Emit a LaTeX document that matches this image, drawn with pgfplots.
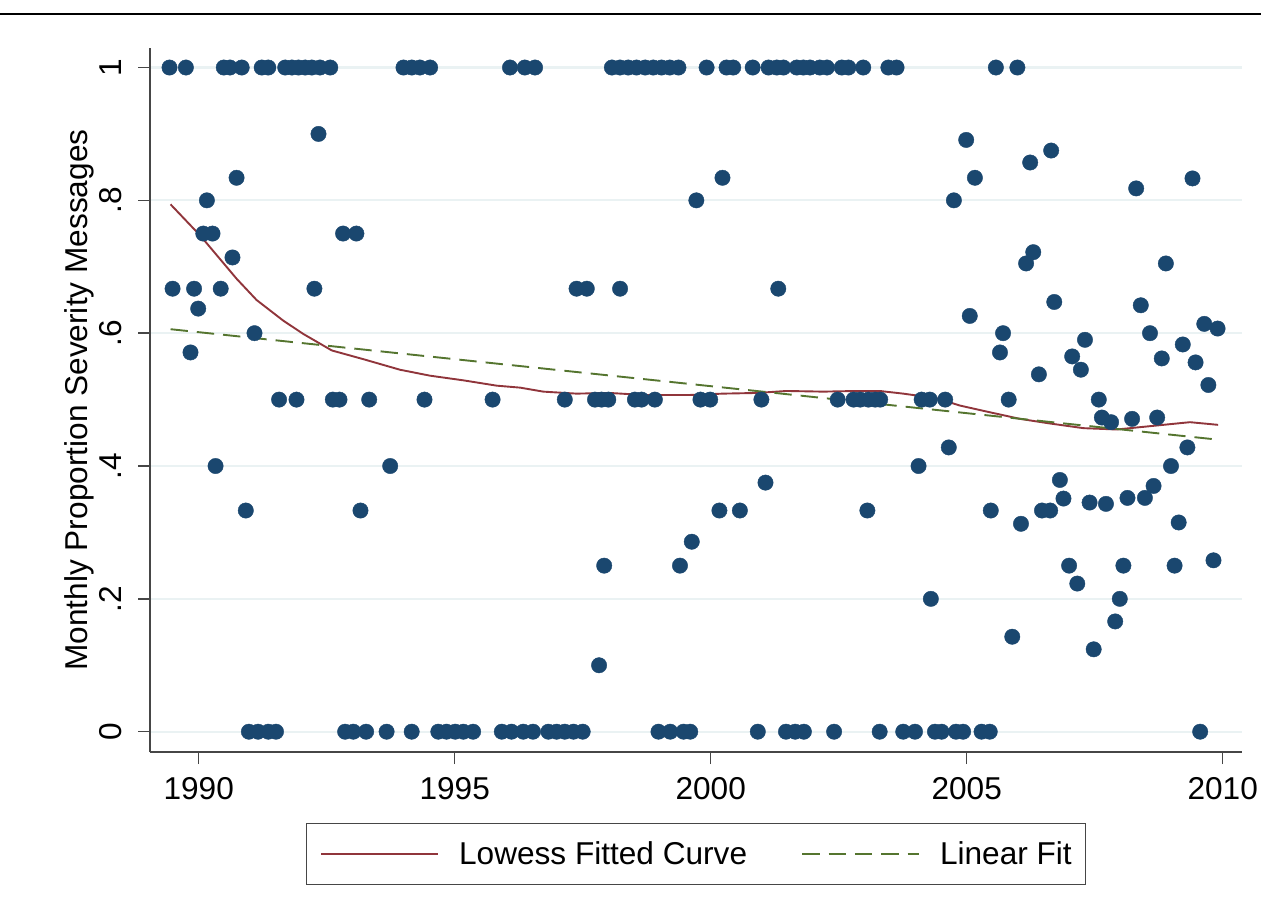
\documentclass[border=0pt]{standalone}
\usepackage{fontspec}
\setmainfont{Liberation Sans}
\usepackage{pgfplots}
\usepackage{pgfplotstable}
\pgfplotsset{compat=1.18}
\definecolor{stnavy}{RGB}{26,71,111}
\definecolor{stmaroon}{RGB}{144,53,59}
\definecolor{stgreen}{RGB}{85,117,47}
\definecolor{stgrid}{RGB}{234,242,243}
\definecolor{staxis}{RGB}{70,70,70}

\pgfplotstableread{
x y
1989.43 1
1989.75 1
1990.49 1
1990.61 1
1990.84 1
1991.23 1
1991.36 1
1991.69 1
1991.82 1
1991.95 1
1992.08 1
1992.21 1
1992.37 1
1992.57 1
1994.00 1
1994.16 1
1994.32 1
1994.52 1
1996.08 1
1996.37 1
1996.57 1
1998.07 1
1998.23 1
1998.39 1
1998.55 1
1998.72 1
1998.88 1
1999.04 1
1999.20 1
1999.37 1
1999.92 1
2000.31 1
2000.44 1
2000.82 1
2001.13 1
2001.29 1
2001.42 1
2001.68 1
2001.81 1
2001.94 1
2002.13 1
2002.27 1
2002.56 1
2002.69 1
2002.98 1
2003.47 1
2003.63 1
2005.57 1
2005.99 1
1990.98 0
1991.16 0
1991.36 0
1991.51 0
1992.86 0
1993.02 0
1993.27 0
1993.67 0
1994.16 0
1994.68 0
1994.84 0
1995.01 0
1995.17 0
1995.36 0
1995.92 0
1996.11 0
1996.34 0
1996.53 0
1996.83 0
1996.99 0
1997.15 0
1997.32 0
1997.50 0
1998.98 0
1999.21 0
1999.47 0
1999.60 0
2000.92 0
2001.47 0
2001.65 0
2001.82 0
2002.41 0
2003.30 0
2003.76 0
2003.99 0
2004.38 0
2004.51 0
2004.79 0
2004.93 0
2005.29 0
2005.45 0
2009.56 0
1992.34 0.900
1990.74 0.834
1990.16 0.800
1990.09 0.750
1990.27 0.750
1990.66 0.714
1989.49 0.667
1989.91 0.667
1990.43 0.667
1992.26 0.667
1989.99 0.637
1989.84 0.571
1991.09 0.600
1992.82 0.750
1993.08 0.750
1991.57 0.500
1991.91 0.500
1992.62 0.500
1992.75 0.500
1990.33 0.400
1990.92 0.333
1993.33 0.500
1994.41 0.500
1995.74 0.500
1993.74 0.400
1993.16 0.333
1999.72 0.800
1997.38 0.667
1997.58 0.667
1998.23 0.667
1997.15 0.500
1997.74 0.500
1997.87 0.500
1998.00 0.500
1998.52 0.500
1998.65 0.500
1998.91 0.500
1999.80 0.500
1999.99 0.500
1997.92 0.250
1999.40 0.250
1999.63 0.286
1997.82 0.100
2000.23 0.834
2001.32 0.667
2000.99 0.500
2002.48 0.500
2002.79 0.500
2002.92 0.500
2003.08 0.500
2003.21 0.500
2003.31 0.500
2001.07 0.375
2000.17 0.333
2000.57 0.333
2003.06 0.333
2004.99 0.891
2006.65 0.875
2006.24 0.857
2005.16 0.834
2004.75 0.800
2006.30 0.722
2006.16 0.705
2006.71 0.647
2005.06 0.626
2005.71 0.600
2005.65 0.571
2006.41 0.538
2004.12 0.500
2004.28 0.500
2004.58 0.500
2005.82 0.500
2004.65 0.428
2004.06 0.400
2005.47 0.333
2006.06 0.313
2006.47 0.333
2006.63 0.333
2006.82 0.379
2006.89 0.351
2004.30 0.200
2005.89 0.143
2008.31 0.818
2009.41 0.833
2008.89 0.705
2008.40 0.642
2009.64 0.614
2009.90 0.607
2007.31 0.590
2008.58 0.600
2007.06 0.565
2007.23 0.545
2008.81 0.562
2009.22 0.583
2009.47 0.556
2009.72 0.522
2007.58 0.500
2007.64 0.473
2007.82 0.466
2008.23 0.471
2008.72 0.473
2009.31 0.428
2008.99 0.400
2007.40 0.345
2007.72 0.343
2008.14 0.352
2008.48 0.352
2008.65 0.370
2009.14 0.315
2007.00 0.250
2007.16 0.223
2008.06 0.250
2009.06 0.250
2009.82 0.258
2007.99 0.200
2007.90 0.166
2007.48 0.124
}\scatterdata

\pgfplotstableread{
x y
1989.45 0.794
1990.03 0.747
1990.74 0.682
1991.13 0.650
1991.65 0.619
1992.04 0.599
1992.60 0.574
1993.21 0.561
1993.93 0.545
1994.52 0.536
1995.17 0.529
1995.82 0.521
1996.28 0.518
1996.73 0.512
1997.38 0.509
1998.03 0.510
1998.68 0.507
1999.60 0.507
2000.24 0.509
2000.90 0.510
2001.48 0.513
2002.20 0.512
2002.85 0.513
2003.30 0.513
2003.76 0.509
2004.41 0.502
2004.87 0.491
2005.39 0.482
2006.04 0.471
2006.63 0.464
2007.28 0.457
2007.93 0.455
2008.58 0.460
2009.36 0.466
2009.91 0.462
}\lowessdata

\pgfplotstableread{
x y
1989.45 0.606
2009.87 0.440
}\lfitdata

\begin{document}
\fontsize{15.8}{19}\selectfont
\begin{tikzpicture}
\path[use as bounding box] (-75pt,-82.5pt) rectangle (556.5pt,376pt);
\draw[line width=1.1pt, black] (-75pt,369pt) -- (555.5pt,369pt);
\begin{axis}[
  at={(0pt,0pt)}, anchor=south west,
  scale only axis, width=546pt, height=352pt,
  xmin=1989.049, xmax=2010.377, ymin=-0.0306, ymax=1.0294,
  axis x line*=bottom, axis y line*=left,
  axis line style={-, staxis, line width=0.7pt},
  tick align=outside, major tick length=6pt,
  tick style={staxis, line width=0.7pt},
  xtick={1990,1995,2000,2005,2010},
  xticklabels={1990,1995,2000,2005,2010},
  ytick={0,0.2,0.4,0.6,0.8,1},
  yticklabels={0,.2,.4,.6,.8,1},
  minor tick num=0,
  ymajorgrids,
  y grid style={stgrid, line width=1.1pt},
  xticklabel style={anchor=north, inner sep=0pt, font=\fontsize{15.8}{19}\selectfont},
  xticklabel shift=6.3pt,
  yticklabel style={rotate=90, anchor=south, inner sep=0pt, font=\fontsize{15.8}{19}\selectfont},
  yticklabel shift=8pt,
  ylabel={Monthly Proportion Severity Messages},
  ylabel style={at={(axis description cs:-0.05678,0.5)}, anchor=base, inner sep=0pt, font=\fontsize{15.8}{19}\selectfont},
  legend style={at={(axis description cs:0.5,-0.10085)}, anchor=north,
    draw=staxis, line width=0.7pt, inner xsep=7pt, inner ysep=9pt,
    font=\fontsize{15.8}{19}\selectfont,
    /tikz/every odd column/.append style={column sep=10pt},
    /tikz/every even column/.append style={column sep=27pt},
    nodes={inner sep=0pt, text depth=0.8pt}},
  legend columns=2,
  legend image code/.code={\draw[#1] (0pt,0pt) -- (58.5pt,0pt);},
]
\addplot[only marks, mark=*, mark size=3.85pt, mark options={fill=stnavy, draw=stnavy, line width=0.2pt}, forget plot] table[x=x,y=y] {\scatterdata};
\addplot[stmaroon, line width=0.95pt, no marks] table[x=x,y=y] {\lowessdata};
\addlegendentry{Lowess Fitted Curve}
\addplot[stgreen, line width=0.95pt, no marks, dash pattern=on 8.7pt off 4.5pt] table[x=x,y=y] {\lfitdata};
\addlegendentry{Linear Fit}
\end{axis}
\end{tikzpicture}
\end{document}
